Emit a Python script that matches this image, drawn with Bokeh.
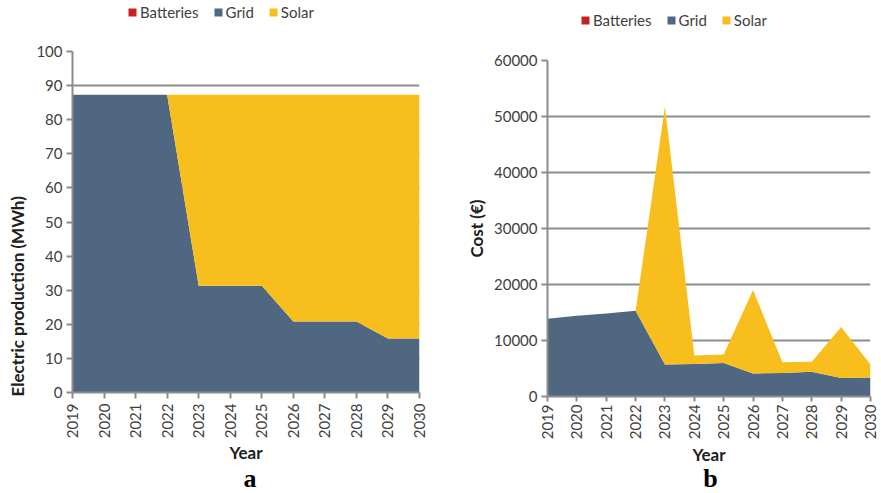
from bokeh.plotting import figure
from bokeh.layouts import row, column
from bokeh.models import (ColumnDataSource, Legend, LegendItem, FixedTicker,
                          Range1d, Div)
from bokeh.embed import file_html
from bokeh.resources import INLINE
import math

years = [2019, 2020, 2021, 2022, 2023, 2024, 2025, 2026, 2027, 2028, 2029, 2030]
year_labels = [str(y) for y in years]

# Panel a: electric production (MWh)
prod_batteries = [0, 0, 0, 0, 0, 0, 0, 0, 0, 0, 0, 0]
prod_grid = [87.3, 87.3, 87.3, 87.3, 31.3, 31.3, 31.3, 20.8, 20.8, 20.8, 15.8, 15.8]
prod_solar = [0, 0, 0, 0, 56.0, 56.0, 56.0, 66.5, 66.5, 66.5, 71.5, 71.5]

# Panel b: cost (€)
cost_batteries = [0, 0, 0, 0, 0, 0, 0, 0, 0, 0, 0, 0]
cost_grid = [13900, 14400, 14800, 15300, 5700, 5800, 6000, 4100, 4200, 4400, 3300, 3400]
cost_solar = [0, 0, 0, 0, 46100, 1500, 1500, 14900, 1900, 1800, 9100, 2300]

series = ["Batteries", "Grid", "Solar"]
colors = ["#C8201E", "#506781", "#F7BE1E"]

FONT = "Lato"
AXIS_GRAY = "#8C8C8C"
TEXT = "#404040"

TOP_H = 35
PLOT_H = 436
LETTER_H = 22
NBSP = "\u00a0"


def no_align(p):
    try:
        p.frame_align = False
    except Exception:
        pass


def make_legend(width, legend_xy):
    p = figure(width=width, height=TOP_H, output_backend="svg", toolbar_location=None,
               x_range=Range1d(0, 1), y_range=Range1d(0, 1), min_border=0)
    no_align(p)
    p.axis.visible = False
    p.grid.grid_line_color = None
    p.outline_line_color = None
    rs = [p.varea(x=[0, 1], y1=[0, 0], y2=[0, 0], fill_color=c) for c in colors]
    items = [LegendItem(label=s, renderers=[r]) for s, r in zip(series, rs)]
    leg = Legend(items=items, location=legend_xy, orientation="horizontal",
                 label_text_font=FONT, label_text_font_size="15px",
                 label_text_color=TEXT, glyph_width=10, glyph_height=10,
                 label_standoff=3, spacing=14, padding=0, margin=0,
                 border_line_color=None, background_fill_alpha=0)
    p.add_layout(leg, "center")
    return p


def make_panel(width, borders, batt, grid, solar, ymax, ystep, ylabel,
               ylabel_standoff, tick_out, lab_standoff, year_standoff):
    src = ColumnDataSource(dict(x=years, Batteries=batt, Grid=grid, Solar=solar))
    p = figure(width=width, height=PLOT_H, output_backend="svg",
               toolbar_location=None, x_range=Range1d(2019, 2030),
               y_range=Range1d(0, ymax))
    no_align(p)
    p.min_border_left, p.min_border_right, p.min_border_top, p.min_border_bottom = borders
    p.outline_line_color = None

    p.varea_stack(stackers=series, x="x", color=colors, source=src)

    p.xgrid.grid_line_color = None
    p.ygrid.grid_line_color = AXIS_GRAY
    p.ygrid.grid_line_width = 2
    p.ygrid.level = "underlay"

    p.xaxis.ticker = FixedTicker(ticks=years)
    p.xaxis.major_label_overrides = {y: s for y, s in zip(years, year_labels)}
    p.xaxis.major_label_orientation = math.pi / 2
    p.yaxis.ticker = FixedTicker(ticks=list(range(0, ymax + 1, ystep)))
    p.yaxis.formatter.use_scientific = False

    for ax in (p.xaxis[0], p.yaxis[0]):
        ax.axis_line_color = AXIS_GRAY
        ax.axis_line_width = 2
        ax.major_tick_line_color = AXIS_GRAY
        ax.major_tick_line_width = 2
        ax.major_tick_out = 6
        ax.major_tick_in = 0
        ax.minor_tick_line_color = None
        ax.major_label_text_font = FONT
        ax.major_label_text_font_size = "15px"
        ax.major_label_text_color = TEXT
        ax.axis_label_text_font = FONT
        ax.axis_label_text_font_style = "bold"
        ax.axis_label_text_color = "#202020"

    p.xaxis.major_tick_out = tick_out
    p.xaxis.axis_label = "Year"
    p.xaxis.axis_label_text_font_size = "17px"
    p.xaxis.axis_label_standoff = year_standoff
    p.xaxis.major_label_standoff = lab_standoff
    p.yaxis.axis_label = ylabel
    p.yaxis.axis_label_text_font_size = "17px"
    p.yaxis.axis_label_standoff = ylabel_standoff
    p.yaxis.major_label_standoff = 4
    return p


def make_letter(width, letter, indent):
    return Div(text=letter, width=width, height=LETTER_H, margin=0,
               styles={"text-align": "center", "text-indent": f"{indent}px",
                       "font-family": "Liberation Serif",
                       "font-weight": "bold", "font-size": "26px",
                       "line-height": "16px", "color": "black"})


# borders: left, right, top, bottom (pixels)
pa = make_panel(440, (72, 21, 16, 79), prod_batteries, prod_grid, prod_solar,
                100, 10, "Electric production (MWh)" + NBSP * 36, 5, 6, 5, 1)
pb = make_panel(441, (107, 11, 25, 75), cost_batteries, cost_grid, cost_solar,
                60000, 10000, "Cost (€)", 4, 5, 3, 2)

la = make_legend(440, (127, 14))
lb = make_legend(441, (140, 6))

layout = column(row(la, lb, spacing=0),
                row(pa, pb, spacing=0),
                row(make_letter(440, "a", 60), make_letter(441, "b", 100), spacing=0),
                spacing=0)
open("out.html", "w").write(file_html(layout, INLINE))
